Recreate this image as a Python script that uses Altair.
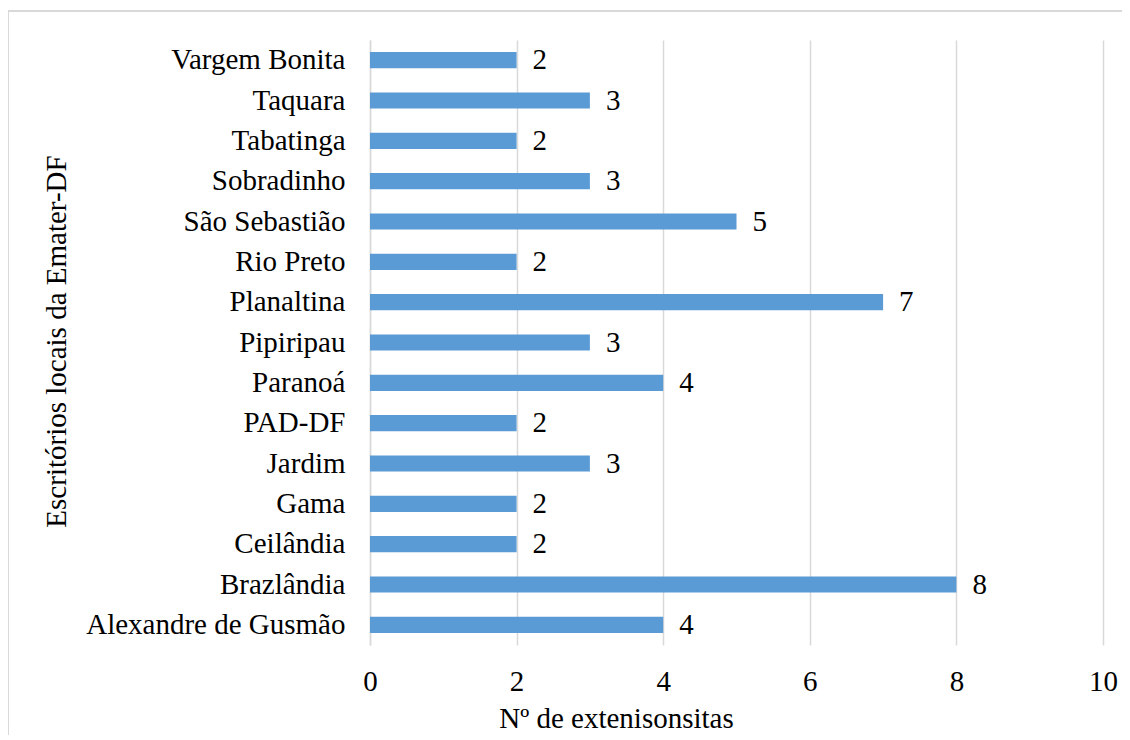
import altair as alt
import pandas as pd

offices = ["Vargem Bonita", "Taquara", "Tabatinga", "Sobradinho", "São Sebastião",
           "Rio Preto", "Planaltina", "Pipiripau", "Paranoá", "PAD-DF", "Jardim",
           "Gama", "Ceilândia", "Brazlândia", "Alexandre de Gusmão"]
counts = [2, 3, 2, 3, 5, 2, 7, 3, 4, 2, 3, 2, 2, 8, 4]
x_ticks = [0, 2, 4, 6, 8, 10]

df = pd.DataFrame({"office": offices, "count": counts})

FONT = "Liberation Serif"
FS = 29

y_axis = alt.Axis(title="Escritórios locais da Emater-DF",
                  labelFont=FONT, labelFontSize=FS, labelColor="black",
                  labelFontWeight="normal",
                  labelPadding=25, labelLimit=500,
                  ticks=False, tickSize=0, domain=True, domainColor="#d9d9d9",
                  domainWidth=1.5, grid=False,
                  titleFont=FONT, titleFontSize=FS, titleFontWeight="normal", titleColor="black",
                  titleAngle=270, titleX=-305, titleY=301,
                  titleAlign="center", titleBaseline="alphabetic")

x_axis = alt.Axis(title="Nº de extenisonsitas", values=x_ticks, format="d",
                  labelFont=FONT, labelFontSize=FS, labelColor="black",
                  labelFontWeight="normal", labelFlush=False, labelOverlap=False,
                  labelPadding=22,
                  ticks=False, tickSize=0, domain=False, grid=True,
                  gridColor="#d9d9d9", gridWidth=1.5,
                  titleFont=FONT, titleFontSize=FS, titleFontWeight="normal", titleColor="black",
                  titleX=246, titleY=82,
                  titleAlign="center", titleBaseline="alphabetic")

x_scale = alt.Scale(domain=[0, 10], nice=False)
y_scale = alt.Scale(paddingInner=0.6, paddingOuter=0.3)

bars = alt.Chart(df).mark_bar(color="#5b9bd5").encode(
    x=alt.X("count:Q", scale=x_scale, axis=x_axis),
    y=alt.Y("office:N", sort=offices, scale=y_scale, axis=y_axis))

labels = alt.Chart(df).mark_text(align="left", baseline="middle", dx=16,
                                 font=FONT, fontSize=FS, fontWeight="normal",
                                 color="black").encode(
    x=alt.X("count:Q", scale=x_scale),
    y=alt.Y("office:N", sort=offices, scale=y_scale),
    text="count:Q")

frame_top = alt.Chart(df).mark_rule(color="#d9d9d9", strokeWidth=1.5).encode(
    x=alt.value(-362), x2=alt.value(760), y=alt.value(-29))
frame_left = alt.Chart(df).mark_rule(color="#d9d9d9", strokeWidth=1.5).encode(
    x=alt.value(-362), y=alt.value(-29), y2=alt.value(700))

chart = alt.layer(bars, labels, frame_top, frame_left).properties(
    width=733, height=605,
    autosize=alt.AutoSizeParams(type="none"),
    padding={"left": 362, "top": 32, "right": 19, "bottom": 90},
).configure(background="white").configure_view(stroke=None)

chart.save("out.html", embed_options={"renderer": "svg", "actions": False})
